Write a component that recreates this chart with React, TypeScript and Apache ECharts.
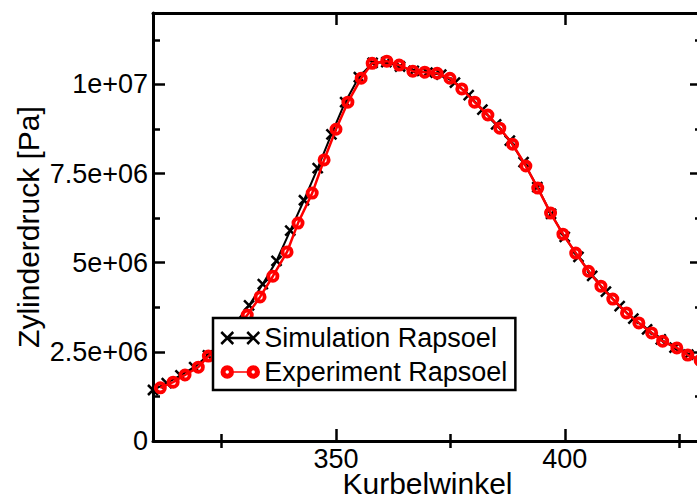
import React, { useEffect, useRef } from "react";
import * as echarts from "echarts";

// Experiment (red circles): crank angle [deg] and pressure [1e6 Pa]
const expAngles = [
  311.6, 314.4, 317.0, 319.9, 322.1, 324.9, 327.7, 330.6, 333.4, 336.2, 339.3, 341.7,
  344.8, 347.4, 350.0, 352.6, 355.5, 357.9, 361.1, 363.8, 366.8, 369.4, 372.1, 374.9,
  377.5, 380.3, 383.2, 385.8, 388.6, 391.5, 394.1, 396.9, 399.6, 402.4, 405.2, 407.9,
  410.5, 413.5, 416.2, 419.0, 421.4, 424.5, 426.9, 429.6,
];
const expPressure = [
  1.49, 1.65, 1.85, 2.07, 2.38, 2.69, 3.05, 3.53, 4.04, 4.62, 5.30, 6.11,
  6.95, 7.88, 8.74, 9.50, 10.17, 10.59, 10.65, 10.54, 10.37, 10.34, 10.31, 10.17,
  9.87, 9.50, 9.14, 8.77, 8.32, 7.71, 7.09, 6.39, 5.80, 5.27, 4.76, 4.34,
  3.98, 3.59, 3.31, 3.03, 2.80, 2.61, 2.41, 2.26,
];

// Simulation (black crosses)
const simAngles = [
  310, 313, 316, 319, 322, 325, 328, 331, 334, 337, 340, 343, 346, 349, 352, 355,
  358, 361, 364, 367, 370, 373, 376, 379, 382, 385, 388, 391, 394, 397, 400, 403,
  406, 409, 412, 415, 418, 421, 424, 427, 430,
];
const simPressure = [
  1.43, 1.62, 1.84, 2.07, 2.40, 2.78, 3.30, 3.80, 4.40, 5.05, 5.90, 6.75, 7.65, 8.60, 9.50, 10.20,
  10.60, 10.62, 10.50, 10.38, 10.33, 10.27, 10.05, 9.70, 9.29, 8.88, 8.42, 7.82, 7.12, 6.37, 5.72, 5.16,
  4.63, 4.19, 3.78, 3.43, 3.13, 2.85, 2.62, 2.42, 2.25,
];

const xMajor = [350, 400];
const xMinor = [325, 375, 425];
const yMajor = [0, 2.5e6, 5e6, 7.5e6, 1e7];
const yMinor = [1.25e6, 3.75e6, 6.25e6, 8.75e6, 1.125e7];

const X_MIN = 310;
const X_MAX = 430;
const Y_MIN = 0;
const Y_MAX = 1.2e7;

const FONT = "Liberation Sans, Arial, Helvetica, sans-serif";

const RING = "path://M0 7A7 7 0 1 0 14 7A7 7 0 1 0 0 7ZM4.2 7A2.8 2.8 0 1 1 9.8 7A2.8 2.8 0 1 1 4.2 7Z";
const CROSS = "path://M0 0L10 10M0 10L10 0";

const fmtY = (v: number) =>
  v === 0 ? "0" : v.toExponential().replace(/e\+(\d)$/, "e+0$1");

export default function App() {
  const ref = useRef<HTMLDivElement>(null);

  useEffect(() => {
    if (!ref.current) return;
    const chart = echarts.init(ref.current, undefined, { renderer: "svg" });

    const line = { color: "#000", width: 3 };
    const tick = { color: "#000", width: 2.5 };

    const xAxisBase = {
      type: "value" as const,
      min: X_MIN,
      max: X_MAX,
      splitLine: { show: false },
    };
    const yAxisBase = {
      type: "value" as const,
      min: Y_MIN,
      max: Y_MAX,
      splitLine: { show: false },
    };

    const simData = simAngles.map((a, i) => [a, simPressure[i] * 1e6]);
    const expData = expAngles.map((a, i) => [a, expPressure[i] * 1e6]);

    chart.setOption({
      animation: false,
      backgroundColor: "#fff",
      textStyle: { fontFamily: FONT },
      grid: {
        left: 153,
        top: 13,
        right: 8,
        bottom: 59,
        containLabel: false,
        outerBoundsMode: "none",
      },
      legend: {
        orient: "vertical",
        left: 213,
        top: 318,
        backgroundColor: "#fff",
        borderColor: "#000",
        borderWidth: 2.5,
        borderRadius: 0,
        padding: [5, 8, 3, 7],
        itemWidth: 38,
        itemHeight: 12,
        itemGap: 4,
        textStyle: { fontSize: 27, color: "#000", fontFamily: FONT, lineHeight: 30 },
        data: [
          {
            name: "Simulation Rapsoel",
            icon: "path://M0 0L12 12M0 12L12 0M6 6L32 6M26 0L38 12M26 12L38 0",
            itemStyle: { color: "#000", borderColor: "#000", borderWidth: 2.5 },
          },
          {
            name: "Experiment Rapsoel",
            icon:
              "path://M0 6A6 6 0 1 0 12 6A6 6 0 1 0 0 6ZM3.6 6A2.4 2.4 0 1 1 8.4 6A2.4 2.4 0 1 1 3.6 6ZM12 6L26 6M26 6A6 6 0 1 0 38 6A6 6 0 1 0 26 6ZM29.6 6A2.4 2.4 0 1 1 34.4 6A2.4 2.4 0 1 1 29.6 6Z",
            itemStyle: { color: "#ff0000", borderColor: "#ff0000", borderWidth: 1.5 },
          },
        ],
      },
      xAxis: [
        {
          ...xAxisBase,
          position: "bottom",
          axisLine: { show: true, onZero: false, lineStyle: line },
          axisTick: { show: true, inside: true, length: 12, customValues: xMajor, lineStyle: tick },
          axisLabel: {
            show: true,
            customValues: xMajor,
            fontSize: 27,
            color: "#000",
            fontFamily: FONT,
            margin: 4,
          },
          name: "Kurbelwinkel",
          nameLocation: "middle",
          nameGap: 27,
          nameMoveOverlap: false,
          nameTextStyle: { fontSize: 30, color: "#000", fontFamily: FONT, lineHeight: 30 },
        },
        {
          ...xAxisBase,
          position: "bottom",
          axisLine: { show: false },
          axisTick: { show: true, inside: true, length: 7, customValues: xMinor, lineStyle: tick },
          axisLabel: { show: false },
        },
        {
          ...xAxisBase,
          position: "top",
          axisLine: { show: true, onZero: false, lineStyle: line },
          axisTick: { show: true, inside: true, length: 12, customValues: xMajor, lineStyle: tick },
          axisLabel: { show: false },
        },
        {
          ...xAxisBase,
          position: "top",
          axisLine: { show: false },
          axisTick: { show: true, inside: true, length: 7, customValues: xMinor, lineStyle: tick },
          axisLabel: { show: false },
        },
      ],
      yAxis: [
        {
          ...yAxisBase,
          position: "left",
          axisLine: { show: true, onZero: false, lineStyle: line },
          axisTick: { show: true, inside: true, length: 12, customValues: yMajor, lineStyle: tick },
          axisLabel: {
            show: true,
            customValues: yMajor,
            fontSize: 27,
            color: "#000",
            fontFamily: FONT,
            margin: 5,
            formatter: fmtY,
          },
          name: "Zylinderdruck [Pa]",
          nameLocation: "middle",
          nameGap: 110,
          nameMoveOverlap: false,
          nameTextStyle: { fontSize: 30, color: "#000", fontFamily: FONT },
        },
        {
          ...yAxisBase,
          position: "left",
          axisLine: { show: false },
          axisTick: { show: true, inside: true, length: 7, customValues: yMinor, lineStyle: tick },
          axisLabel: { show: false },
        },
        {
          ...yAxisBase,
          position: "right",
          axisLine: { show: true, onZero: false, lineStyle: line },
          axisTick: { show: true, inside: true, length: 12, customValues: yMajor, lineStyle: tick },
          axisLabel: { show: false },
        },
        {
          ...yAxisBase,
          position: "right",
          axisLine: { show: false },
          axisTick: { show: true, inside: true, length: 7, customValues: yMinor, lineStyle: tick },
          axisLabel: { show: false },
        },
      ],
      series: [
        {
          name: "Simulation Rapsoel",
          type: "line",
          xAxisIndex: 0,
          yAxisIndex: 0,
          data: simData,
          z: 2,
          color: "#000",
          lineStyle: { color: "#000", width: 2 },
          symbol: CROSS,
          symbolSize: 10,
          showAllSymbol: true,
          itemStyle: { color: "#000", borderColor: "#000", borderWidth: 2.5 },
          clip: true,
        },
        {
          name: "Experiment Rapsoel",
          type: "line",
          xAxisIndex: 0,
          yAxisIndex: 0,
          data: expData,
          z: 3,
          color: "#ff0000",
          lineStyle: { color: "#ff0000", width: 2.5 },
          symbol: RING,
          symbolSize: 13,
          showAllSymbol: true,
          itemStyle: { color: "#ff0000", borderWidth: 0 },
          clip: true,
        },
      ],
    });

    return () => chart.dispose();
  }, []);

  return (
    <div
      style={{
        position: "fixed",
        left: 0,
        top: 0,
        width: 697,
        height: 500,
        overflow: "hidden",
        background: "#fff",
      }}
    >
      <div ref={ref} style={{ width: 710, height: 500 }} />
    </div>
  );
}
